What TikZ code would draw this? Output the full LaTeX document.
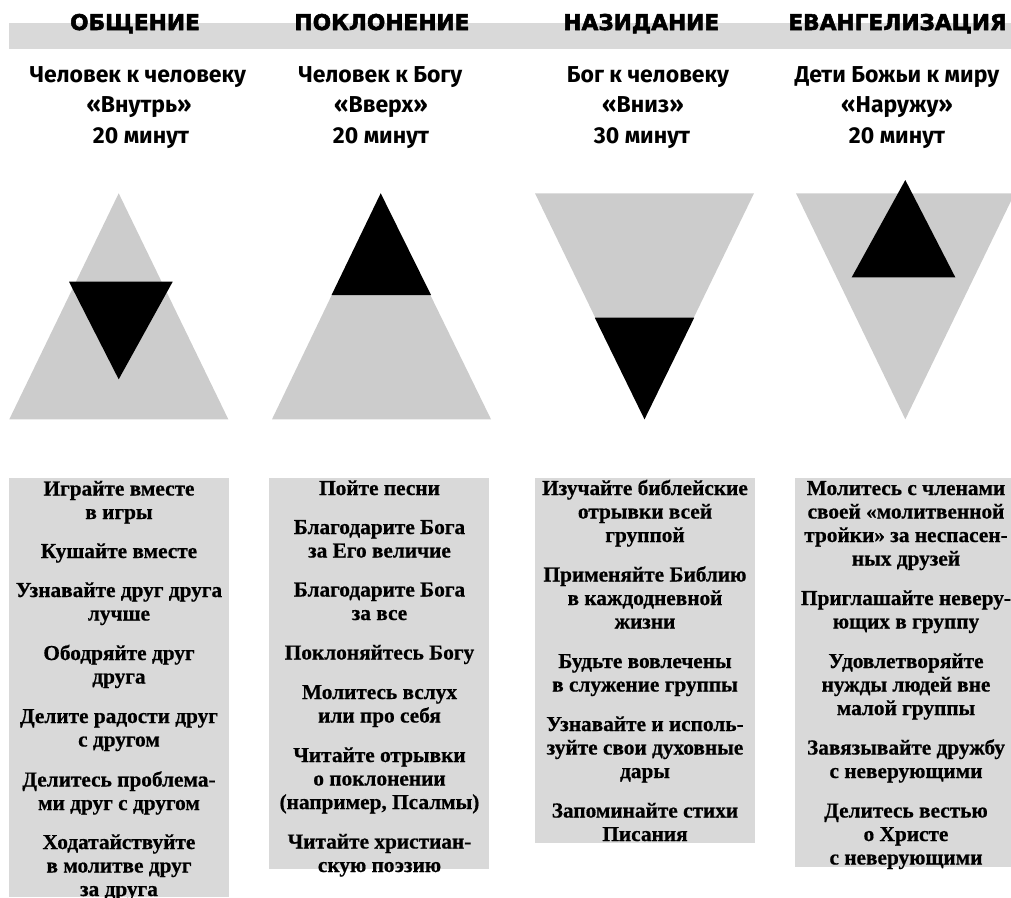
\documentclass[tikz,border=0pt]{standalone}
\usepackage{fontspec}
\setmainfont{Liberation Serif}[BoldFeatures={FakeBold=0.6}]
\newfontfamily\hdrfont{DejaVu Sans}[BoldFeatures={FakeBold=2.5}]
\newfontfamily\ttlfont{Fira Sans}
\definecolor{bandgray}{HTML}{D9D9D9}
\definecolor{trigray}{HTML}{CCCCCC}
\tikzset{
  hdr/.style={anchor=base, inner sep=0, font=\hdrfont\bfseries\fontsize{21.7}{26}\selectfont},
  ttl/.style={anchor=base, inner sep=0, font=\ttlfont\bfseries\fontsize{23}{26}\selectfont},
  body/.style={anchor=base, inner sep=0, font=\bfseries\fontsize{21.3}{23}\selectfont},
  lightshape/.style={fill=trigray, draw=none},
  darkshape/.style={fill=black, draw=none},
  panel/.style={fill=bandgray, draw=none}
}
\begin{document}
\begin{tikzpicture}[x=1pt,y=-1pt]
\useasboundingbox (0,0) rectangle (1011,897);
% header band
\fill[panel] (9,22.7) rectangle (1011,49.3);
\node[hdr] (h1) at (135,30) {ОБЩЕНИЕ};
\node[hdr] (h2) at (382,30) {ПОКЛОНЕНИЕ};
\node[hdr] (h3) at (641.3,30) {НАЗИДАНИЕ};
\node[hdr] (h4) at (897.5,30) {ЕВАНГЕЛИЗАЦИЯ};
% titles
\node[ttl] (t1a) at (138,82) {Человек к человеку};
\node[ttl] (t1b) at (139,112.5) {«Внутрь»};
\node[ttl] (t1c) at (141,143) {20 минут};
\node[ttl] (t2a) at (380.5,82) {Человек к Богу};
\node[ttl] (t2b) at (381,112.5) {«Вверх»};
\node[ttl] (t2c) at (381,143) {20 минут};
\node[ttl] (t3a) at (648,82) {Бог к человеку};
\node[ttl] (t3b) at (643,112.5) {«Вниз»};
\node[ttl] (t3c) at (642,143) {30 минут};
\node[ttl] (t4a) at (897,82) {Дети Божьи к миру};
\node[ttl] (t4b) at (897,112.5) {«Наружу»};
\node[ttl] (t4c) at (897,143) {20 минут};
% triangles
\fill[lightshape] (118.7,193.3) -- (9.3,419.3) -- (228.3,419.3) -- cycle;
\fill[darkshape] (69,281.7) -- (172.7,281.7) -- (118.7,379.3) -- cycle;
\fill[lightshape] (380.7,193.3) -- (272,419.3) -- (491,419.3) -- cycle;
\fill[darkshape] (380.7,193.3) -- (331.6,295) -- (431,295) -- cycle;
\fill[lightshape] (535,193.3) -- (754,193.3) -- (644.5,419.3) -- cycle;
\fill[darkshape] (594.8,317.7) -- (694.2,317.7) -- (644.5,419.3) -- cycle;
\fill[lightshape] (796,193.3) -- (1014.7,193.3) -- (905.3,419.3) -- cycle;
\fill[darkshape] (905.3,180) -- (851.7,277.3) -- (955.3,277.3) -- cycle;
% panels
\fill[panel] (9,478.3) rectangle (229,897);
\fill[panel] (269,478.3) rectangle (488.7,869.3);
\fill[panel] (535,478.3) rectangle (755,842.7);
\fill[panel] (795,478.3) rectangle (1011,866.7);
% column 1
\foreach \yy/\tx [count=\i] in {
  495.5/Играйте вместе, 519/в игры,
  558/Кушайте вместе,
  597/Узнавайте друг друга, 620.5/лучше,
  660/Ободряйте друг, 683.5/друга,
  723/Делите радости друг, 746.5/с другом,
  786.5/Делитесь проблема-, 810/ми друг с другом,
  849/Ходатайствуйте, 872.5/в молитве друг, 896/за друга}
  \node[body] (a\i) at (119,\yy) {\tx};
% column 2
\foreach \yy/\tx [count=\i] in {
  495/Пойте песни,
  534/Благодарите Бога, 557.5/за Его величие,
  596.5/Благодарите Бога, 620/за все,
  659.5/Поклоняйтесь Богу,
  699/Молитесь вслух, 722.5/или про себя,
  762/Читайте отрывки, 785.5/о поклонении, 809/{(например, Псалмы)},
  848.5/Читайте христиан-, 872/скую поэзию}
  \node[body] (b\i) at (379.5,\yy) {\tx};
% column 3
\foreach \yy/\tx [count=\i] in {
  495/Изучайте библейские, 518.5/отрывки всей, 542/группой,
  581.5/Применяйте Библию, 605/в каждодневной, 628.5/жизни,
  668/Будьте вовлечены, 691.5/в служение группы,
  731/Узнавайте и исполь-, 754.5/зуйте свои духовные, 778/дары,
  817.5/Запоминайте стихи, 841/Писания}
  \node[body] (c\i) at (645,\yy) {\tx};
% column 4
\foreach \yy/\tx [count=\i] in {
  495/Молитесь с членами, 518.5/своей «молитвенной, 542/тройки» за неспасен-, 565.5/ных друзей,
  605/Приглашайте неверу-, 628.5/ющих в группу,
  668/Удовлетворяйте, 691.5/нужды людей вне, 715/малой группы,
  754.5/Завязывайте дружбу, 778/с неверующими,
  817.5/Делитесь вестью, 841/о Христе, 864.5/с неверующими}
  \node[body] (d\i) at (906,\yy) {\tx};
\end{tikzpicture}
\end{document}
